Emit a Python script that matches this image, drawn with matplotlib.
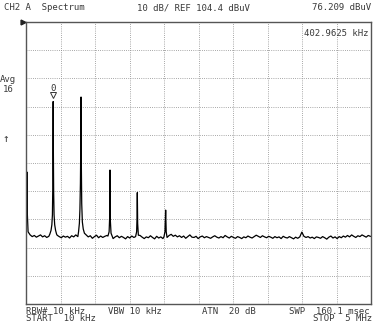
import numpy as np
import matplotlib
matplotlib.use('Agg')
import matplotlib.pyplot as plt
from matplotlib.transforms import offset_copy

# analyzer settings
start_khz = 10
stop_khz = 5000
ref_dbuv = 104.4
db_per_div = 10
marker_khz = 402.9625
marker_dbuv = 76.209

# noise floor, one reading every 30 kHz from 40 kHz up
noise_start_khz = 40
noise_step_khz = 30
noise_dbuv = [
    29.6, 28.9, 28.3, 28.7, 28.1, 28.5, 28.9, 28.2, 28.6, 28.0,
    28.4, 29.0, 28.6, 28.2, 28.8, 28.3, 27.9, 28.5, 28.1, 28.4,
    27.8, 28.6, 28.2, 28.9, 28.3, 28.7, 29.0, 28.4, 28.9, 28.2,
    28.6, 27.7, 28.3, 28.8, 27.9, 28.5, 28.0, 28.4, 28.7, 28.1,
    28.3, 27.6, 28.2, 28.6, 27.9, 28.4, 28.0, 27.5, 28.3, 27.8,
    28.5, 28.0, 27.7, 28.3, 28.7, 28.1, 27.6, 28.2, 27.9, 28.6,
    28.0, 27.5, 28.4, 27.8, 28.2, 27.6, 28.9, 28.3, 28.7, 29.1,
    28.4, 28.8, 28.2, 28.6, 28.0, 28.5, 27.7, 28.3, 28.9, 28.1,
    28.0, 28.4, 27.6, 28.2, 28.5, 27.9, 28.3, 28.0, 27.7, 28.2,
    28.6, 28.1, 27.8, 28.3, 27.9, 28.7, 28.2, 27.8, 28.4, 28.0,
    27.7, 28.3, 28.0, 27.6, 28.2, 27.9, 28.5, 28.1, 27.8, 28.3,
    28.8, 28.4, 28.0, 28.6, 28.2, 27.9, 28.4, 28.1, 27.7, 28.3,
    27.9, 28.2, 27.6, 28.4, 28.0, 27.8, 28.3, 27.9, 27.5, 28.1,
    27.7, 28.2, 29.9, 28.4, 28.0, 28.3, 27.8, 28.1, 27.6, 28.2,
    28.0, 27.7, 28.3, 27.9, 27.4, 28.1, 28.5, 27.8, 28.2, 27.6,
    28.3, 27.9, 28.5, 28.1, 28.7, 28.2, 28.9, 28.4, 28.0, 28.6,
    28.3, 28.9, 28.5, 28.1, 28.7, 28.4,
]

# peaks: frequency (kHz) / level (dBuV) points around each line
peak0_khz = [10, 18, 24, 30, 40]
peak0_dbuv = [30.0, 38.0, 51.2, 36.0, 30.0]
peak1_khz = [355, 372, 384, 392, 397, 400, 403, 406, 410, 416, 425, 438, 452]
peak1_dbuv = [29.2, 30.5, 32.5, 36.0, 45.0, 60.0, 76.2, 58.0, 44.0, 36.0, 32.5, 30.5, 29.2]
peak2_khz = [770, 782, 790, 797, 802, 806, 810, 816, 825, 838, 855]
peak2_dbuv = [30.0, 33.0, 38.0, 47.0, 60.0, 77.8, 55.0, 40.0, 33.5, 31.0, 29.5]
peak3_khz = [1195, 1212, 1220, 1225, 1230, 1240]
peak3_dbuv = [28.5, 30.0, 35.0, 51.9, 34.0, 29.5]
peak4_khz = [1595, 1610, 1616, 1620, 1625, 1635]
peak4_dbuv = [28.3, 30.0, 35.0, 43.9, 33.0, 28.8]
peak5_khz = [2005, 2020, 2030, 2038, 2050]
peak5_dbuv = [28.2, 30.0, 37.7, 30.0, 28.0]

peaks = [(peak0_khz, peak0_dbuv), (peak1_khz, peak1_dbuv), (peak2_khz, peak2_dbuv),
         (peak3_khz, peak3_dbuv), (peak4_khz, peak4_dbuv), (peak5_khz, peak5_dbuv)]

# merge floor + peaks into one sweep
noise_khz = noise_start_khz + noise_step_khz * np.arange(len(noise_dbuv))
keep = np.ones(len(noise_khz), bool)
for pk, pl in peaks:
    keep &= ~((noise_khz >= pk[0]) & (noise_khz <= pk[-1]))
f = list(noise_khz[keep])
lv = list(np.array(noise_dbuv)[keep])
for pk, pl in peaks:
    f += pk
    lv += pl
order = np.argsort(f)
trace_khz = np.array(f)[order]
trace_dbuv = np.array(lv)[order]

W, H = 374, 324
fig = plt.figure(figsize=(W / 100, H / 100), dpi=100)
ax = fig.add_axes([26 / W, 1 - 304 / H, 345 / W, 282 / H])

bottom = ref_dbuv - 10 * db_per_div
ax.set_xlim(start_khz, stop_khz)
ax.set_ylim(bottom, ref_dbuv)
ax.set_xticks(np.linspace(start_khz, stop_khz, 11))
ax.set_yticks(np.linspace(bottom, ref_dbuv, 11))
ax.tick_params(length=0, labelbottom=False, labelleft=False)
ax.grid(True, color='#8a8a8a', lw=0.6, ls=(0, (1, 1.6)))
for s in ax.spines.values():
    s.set_color('#555555')
    s.set_linewidth(1.0)

ax.plot(trace_khz, trace_dbuv, color='black', lw=0.9)

# marker
tri = offset_copy(ax.transData, fig=fig, x=0, y=4.5, units='points')
ax.plot(marker_khz, marker_dbuv, marker='v', ms=4.5, mfc='white', mec='#333333',
        mew=0.7, transform=tri, clip_on=False)
lab = offset_copy(ax.transData, fig=fig, x=0, y=9.5, units='points')
ax.text(marker_khz, marker_dbuv, '0', transform=lab, ha='center', va='center',
        fontsize=6.5, family='DejaVu Sans Mono', color='#333333')

# reference level pointer
ax.plot(-0.008, 1.0, marker='>', ms=3.5, color='#222222', transform=ax.transAxes,
        clip_on=False)

txt = dict(fontsize=6.5, family='DejaVu Sans Mono', color='#3a3a3a', va='center')


def put(x, y, s, **kw):
    d = dict(txt)
    d.update(kw)
    fig.text(x / W, 1 - y / H, s, **d)


put(4, 8, 'CH2 A  Spectrum')
put(137, 8, '10 dB/ REF 104.4 dBuV')
put(371, 8, '76.209 dBuV', ha='right')
put(369, 34, '402.9625 kHz', ha='right')
put(0, 80, 'Avg')
put(3, 90, '16')
put(2, 139, '\u2191', fontsize=8)
put(26, 311, 'RBW# 10 kHz')
put(108, 311, 'VBW 10 kHz')
put(202, 311, 'ATN  20 dB')
put(289, 311, 'SWP  160.1 msec')
put(26, 318.5, 'START  10 kHz')
put(372, 318.5, 'STOP  5 MHz', ha='right')

fig.savefig('out.png', dpi=100)
